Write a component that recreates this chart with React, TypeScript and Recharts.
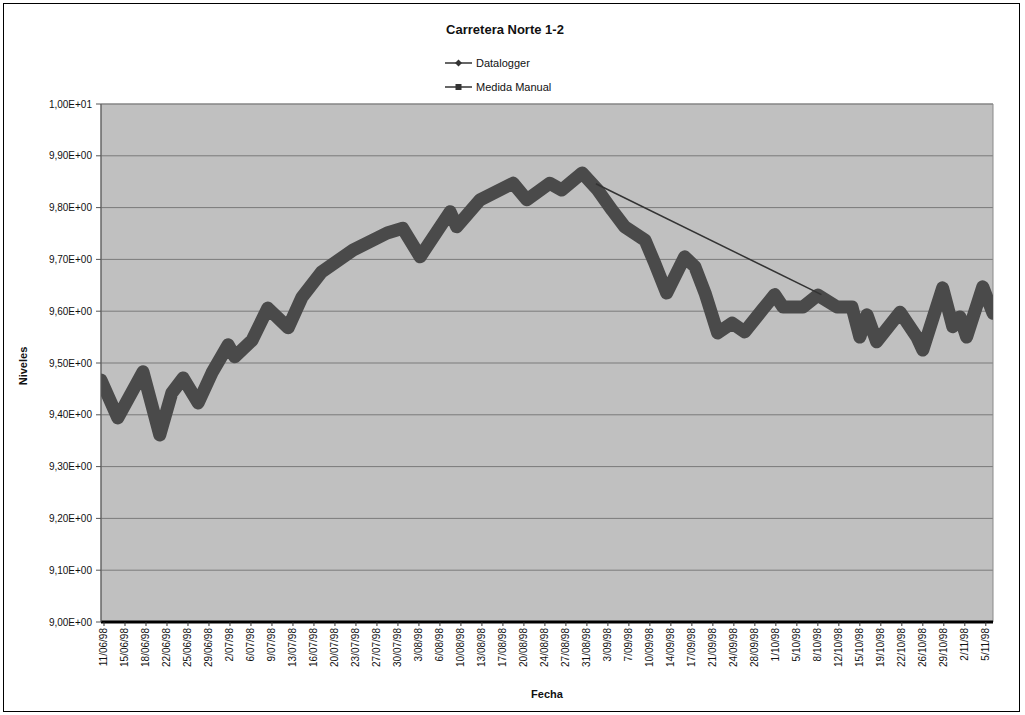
import {
  CartesianGrid,
  Label,
  Line,
  LineChart,
  ReferenceArea,
  XAxis,
  YAxis,
} from "recharts";

// days counted from 11/06/98, levels
const loggerDays = [
  -0.5, 2.3, 6.5, 9.3, 11.3, 13.2, 15.7, 18, 20.7, 21.8, 24.7, 27.3, 30.7, 33, 36.3, 41.5, 47.2,
  49.8, 52.7, 57.7, 58.8, 62.7, 68.2, 70.5, 74.3, 76.3, 79.7, 82.3, 84.7, 86.8, 90.2, 91.8, 93.8,
  96.8, 98.5, 100.2, 102.3, 104.7, 106.8, 109.7, 111.8, 113.2, 116.5, 119, 122.2, 124.7, 126,
  127.2, 128.8, 132.7, 135.5, 136.5, 139.8, 141.5, 142.7, 143.8, 146.5, 148.2,
];
const loggerLevels = [
  9.467, 9.394, 9.483, 9.361, 9.442, 9.471, 9.423, 9.481, 9.535, 9.512, 9.544, 9.606, 9.568,
  9.627, 9.676, 9.718, 9.751, 9.76, 9.705, 9.792, 9.763, 9.815, 9.847, 9.815, 9.847, 9.834,
  9.867, 9.834, 9.795, 9.763, 9.737, 9.693, 9.635, 9.705, 9.686, 9.635, 9.558, 9.577, 9.56,
  9.602, 9.632, 9.608, 9.608, 9.631, 9.608, 9.608, 9.55, 9.593, 9.541, 9.598, 9.55, 9.525,
  9.645, 9.57, 9.589, 9.55, 9.647, 9.596,
];
const manualDays = [82, 119.6];
const manualLevels = [9.846, 9.632];

const tickLabels = [
  "11/06/98", "15/06/98", "18/06/98", "22/06/98", "25/06/98", "29/06/98", "2/07/98", "6/07/98",
  "9/07/98", "13/07/98", "16/07/98", "20/07/98", "23/07/98", "27/07/98", "30/07/98", "3/08/98",
  "6/08/98", "10/08/98", "13/08/98", "17/08/98", "20/08/98", "24/08/98", "27/08/98", "31/08/98",
  "3/09/98", "7/09/98", "10/09/98", "14/09/98", "17/09/98", "21/09/98", "24/09/98", "28/09/98",
  "1/10/98", "5/10/98", "8/10/98", "12/10/98", "15/10/98", "19/10/98", "22/10/98", "26/10/98",
  "29/10/98", "2/11/98", "5/11/98",
];
const levelTicks = [9.0, 9.1, 9.2, 9.3, 9.4, 9.5, 9.6, 9.7, 9.8, 9.9, 10.0];

const FONT = "'Liberation Sans', Arial, sans-serif";
const loggerData = loggerDays.map((t, i) => ({ t, v: loggerLevels[i] }));
const manualData = manualDays.map((t, i) => ({ t, v: manualLevels[i] }));
const dayTicks = tickLabels.map((_, i) => i * 3.5);

const fmtLevel = (v: number) =>
  v >= 10 ? "1,00E+01" : `${v.toFixed(2).replace(".", ",")}E+00`;

function DateTick({ x, y, payload }: any) {
  const label = tickLabels[Math.round(payload.value / 3.5)];
  return (
    <text
      x={x}
      y={y}
      transform={`rotate(-90 ${x} ${y})`}
      textAnchor="end"
      dominantBaseline="central"
      fontSize={10}
      fontFamily={FONT}
      fill="#111"
    >
      {label}
    </text>
  );
}

function LegendBox() {
  const rows = [
    { name: "Datalogger", square: false },
    { name: "Medida Manual", square: true },
  ];
  return (
    <svg width={160} height={46} style={{ overflow: "visible" }}>
      {rows.map((r, i) => {
        const cy = 8 + i * 24;
        return (
          <g key={r.name}>
            <line x1={0} x2={27} y1={cy} y2={cy} stroke="#333" strokeWidth={1.5} />
            {r.square ? (
              <rect x={10.5} y={cy - 3} width={6} height={6} fill="#333" />
            ) : (
              <path d={`M13.5 ${cy - 3.5} L17 ${cy} L13.5 ${cy + 3.5} L10 ${cy} Z`} fill="#333" />
            )}
            <text x={31} y={cy + 4} fontSize={11} fontFamily={FONT} fill="#111">
              {r.name}
            </text>
          </g>
        );
      })}
    </svg>
  );
}

export default function App() {
  return (
    <div
      style={{
        position: "absolute",
        left: 0,
        top: 0,
        width: 1025,
        height: 715,
        background: "#fff",
        fontFamily: FONT,
      }}
    >
      <div
        style={{
          position: "absolute",
          left: 3,
          top: 3,
          width: 1015,
          height: 707,
          border: "1px solid #000",
        }}
      />
      <div
        style={{
          position: "absolute",
          left: 0,
          width: 1010,
          top: 22,
          textAlign: "center",
          fontSize: 13,
          fontWeight: "bold",
          color: "#111",
        }}
      >
        Carretera Norte 1-2
      </div>
      <div style={{ position: "absolute", left: 445, top: 55 }}>
        <LegendBox />
      </div>
      <div style={{ position: "absolute", left: 0, top: 0 }}>
        <LineChart
          width={1025}
          height={715}
          margin={{ top: 104, right: 32, bottom: 13, left: 0 }}
        >
          <CartesianGrid
            vertical={false}
            fill="#c0c0c0"
            stroke="#7a7a7a"
            horizontalValues={levelTicks}
          />
          <ReferenceArea
            x1={-0.5}
            x2={148.2}
            y1={9}
            y2={10}
            fill="none"
            stroke="#8a8a8a"
            ifOverflow="visible"
          />
          <XAxis
            type="number"
            dataKey="t"
            domain={[-0.5, 148.2]}
            ticks={dayTicks}
            interval={0}
            allowDataOverflow
            tick={<DateTick />}
            tickSize={4}
            tickLine={{ stroke: "#333" }}
            axisLine={{ stroke: "#000", strokeWidth: 3 }}
            height={80}
          >
            <Label
              value="Fecha"
              position="insideBottom"
              offset={4}
              style={{ fontSize: 11, fontWeight: "bold", fontFamily: FONT, fill: "#111" }}
            />
          </XAxis>
          <YAxis
            type="number"
            domain={[9, 10]}
            ticks={levelTicks}
            interval={0}
            allowDataOverflow
            width={101}
            tickSize={5}
            tickMargin={4}
            tickFormatter={fmtLevel}
            tick={{ fontSize: 10, fontFamily: FONT, fill: "#111" }}
            tickLine={{ stroke: "#555" }}
            axisLine={{ stroke: "#555" }}
          >
            <Label
              content={() => (
                <text
                  x={27}
                  y={366}
                  transform="rotate(-90 27 366)"
                  textAnchor="middle"
                  fontSize={11}
                  fontWeight="bold"
                  fontFamily={FONT}
                  fill="#111"
                >
                  Niveles
                </text>
              )}
            />
          </YAxis>
          <Line
            data={loggerData}
            dataKey="v"
            name="Datalogger"
            type="linear"
            stroke="#4a4a4a"
            strokeWidth={13}
            strokeLinejoin="round"
            strokeLinecap="round"
            dot={false}
            isAnimationActive={false}
          />
          <Line
            data={manualData}
            dataKey="v"
            name="Medida Manual"
            type="linear"
            stroke="#333"
            strokeWidth={1.5}
            dot={false}
            isAnimationActive={false}
          />
        </LineChart>
      </div>
    </div>
  );
}
